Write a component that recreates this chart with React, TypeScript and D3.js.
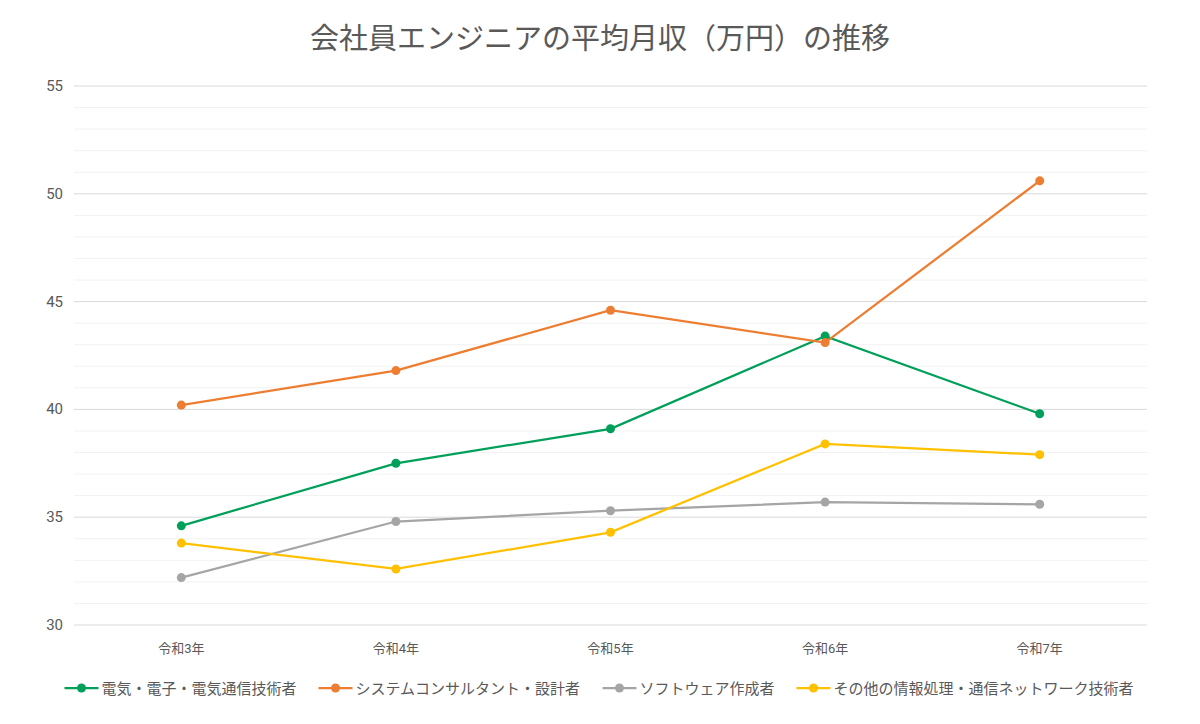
import React from "react";
import * as d3 from "d3";

const categories = ["令和3年", "令和4年", "令和5年", "令和6年", "令和7年"];
const seriesNames = [
  "電気・電子・電気通信技術者",
  "システムコンサルタント・設計者",
  "ソフトウェア作成者",
  "その他の情報処理・通信ネットワーク技術者",
];
const electrical = [34.6, 37.5, 39.1, 43.4, 39.8];
const consultant = [40.2, 41.8, 44.6, 43.1, 50.6];
const software = [32.2, 34.8, 35.3, 35.7, 35.6];
const otherIT = [33.8, 32.6, 34.3, 38.4, 37.9];
const colors = ["#00a05a", "#ed7d31", "#a5a5a5", "#ffc000"];
const yMajorTicks = [30, 35, 40, 45, 50, 55];
const yMinorTicks = d3.range(30, 56, 1);

const W = 1200;
const H = 724;
const FONT = "Roboto, 'Noto Sans CJK JP', 'Noto Sans', sans-serif";

export default function App() {
  const left = 74;
  const right = 1147;
  const top = 86;
  const bottom = 625;
  const x = d3.scaleBand<string>().domain(categories).range([left, right]);
  const y = d3.scaleLinear().domain([30, 55]).range([bottom, top]);
  const allSeries = [electrical, consultant, software, otherIT];
  const line = d3
    .line<number>()
    .x((_, i) => (x(categories[i]) as number) + x.bandwidth() / 2)
    .y((d) => y(d));

  // legend layout
  const lineW = 34;
  const gapText = 3;
  const gapItem = 22;
  const charW = 15;
  const widths = seriesNames.map((s) => lineW + gapText + s.length * charW);
  const total = d3.sum(widths) + gapItem * (widths.length - 1);
  let cur = 599 - total / 2;
  const legendX = widths.map((w) => {
    const p = cur;
    cur += w + gapItem;
    return p;
  });
  const legendY = 688;

  return (
    <svg
      width={W}
      height={H}
      style={{ position: "absolute", left: 0, top: 0, background: "#fff" }}
      fontFamily={FONT}
    >
      <text x={600} y={49} textAnchor="middle" fontSize={29} fill="#595959">
        会社員エンジニアの平均月収（万円）の推移
      </text>
      {yMinorTicks
        .filter((t) => t % 5 !== 0)
        .map((t) => (
          <line key={"m" + t} x1={left} x2={right} y1={y(t)} y2={y(t)} stroke="#f2f2f2" strokeWidth={1} />
        ))}
      {yMajorTicks.map((t) => (
        <g key={"M" + t}>
          <line x1={left} x2={right} y1={y(t)} y2={y(t)} stroke="#d9d9d9" strokeWidth={1} />
          <text x={63} y={y(t) + 5} textAnchor="end" fontSize={15} fill="#595959">
            {t}
          </text>
        </g>
      ))}
      {categories.map((c) => (
        <text
          key={c}
          x={(x(c) as number) + x.bandwidth() / 2}
          y={653}
          textAnchor="middle"
          fontSize={13}
          fill="#595959"
        >
          {c}
        </text>
      ))}
      {allSeries.map((s, si) => (
        <g key={si}>
          <path d={line(s) as string} fill="none" stroke={colors[si]} strokeWidth={2.25} />
          {s.map((v, i) => (
            <circle
              key={i}
              cx={(x(categories[i]) as number) + x.bandwidth() / 2}
              cy={y(v)}
              r={4.5}
              fill={colors[si]}
            />
          ))}
        </g>
      ))}
      {seriesNames.map((name, i) => (
        <g key={name} transform={`translate(${legendX[i]},${legendY})`}>
          <line x1={0} x2={lineW} y1={0} y2={0} stroke={colors[i]} strokeWidth={2.25} />
          <circle cx={lineW / 2} cy={0} r={4.5} fill={colors[i]} />
          <text x={lineW + gapText} y={5.5} fontSize={15} fill="#595959">
            {name}
          </text>
        </g>
      ))}
    </svg>
  );
}
